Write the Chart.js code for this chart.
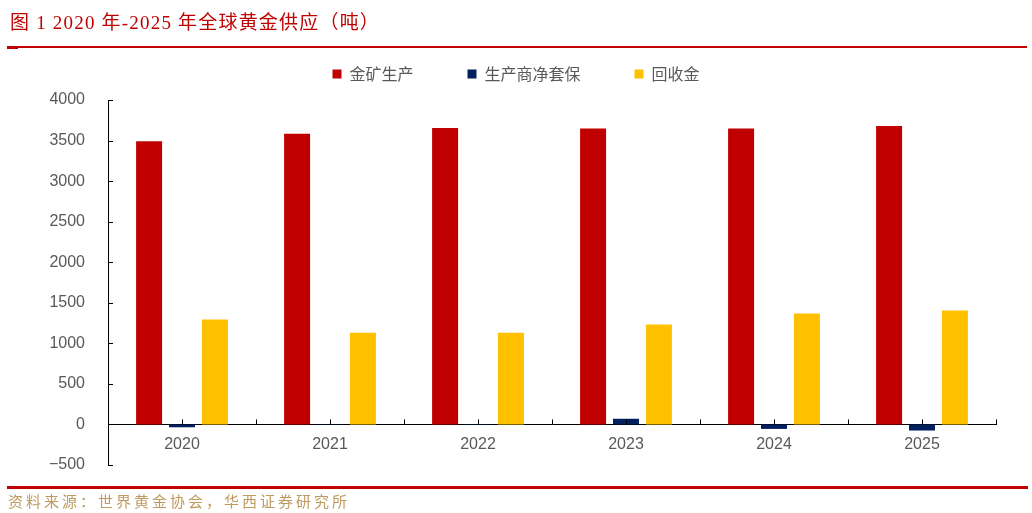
<!DOCTYPE html>
<html>
<head>
<meta charset="utf-8">
<script src="https://cdn.jsdelivr.net/npm/chart.js@4.4.1/dist/chart.umd.min.js"></script>
<style>
    body { margin: 0; background: #fff; }
    #page { position: relative; width: 1032px; height: 513px; overflow: hidden; background: #fff; }
    #chart { position: absolute; left: 0; top: 0; }
    #title {
        position: absolute; left: 10px; top: 7px;
        font-family: "Liberation Serif", "Noto Sans CJK SC", serif;
        font-size: 19px; color: #c00000; white-space: nowrap; letter-spacing: 1.2px;
    }
    #topLine { position: absolute; left: 7px; top: 46px; width: 1020px; height: 2px; background: #c00000; }
    #topMark { position: absolute; left: 7px; top: 46px; width: 11px; height: 3px; background: #c00000; }
    #bottomLine { position: absolute; left: 7px; top: 486px; width: 1021px; height: 3px; background: #c00000; }
    #source {
        position: absolute; left: 8px; top: 490px;
        font-family: "Noto Sans CJK SC", sans-serif;
        font-size: 15px; color: #bf9a5e; white-space: nowrap; letter-spacing: 3px;
    }
</style>
</head>
<body>
<div id="page">
    <canvas id="chart" width="1032" height="513"></canvas>
    <div id="title">图 1 2020 年-2025 年全球黄金供应（吨）</div>
    <div id="topLine"></div>
    <div id="topMark"></div>
    <div id="bottomLine"></div>
    <div id="source">资料来源：世界黄金协会，华西证券研究所</div>
</div>
<script>
var years = ["2020", "2021", "2022", "2023", "2024", "2025"];
var seriesNames = ["金矿生产", "生产商净套保", "回收金"];
var mineProduction = [3490, 3585, 3655, 3650, 3650, 3680];
var producerHedging = [-35, -4, -5, 70, -55, -75];
var recycledGold = [1293, 1132, 1132, 1231, 1367, 1404];
var yMin = -500, yMax = 4000, yStep = 500;

var colors = ["#c00000", "#002060", "#ffc000"];

Chart.defaults.font.family = "'Liberation Sans', Arial, sans-serif";
Chart.defaults.color = "#595959";

// little inward tick marks like the excel original
var axisTicks = {
    id: "axisTicks",
    beforeLayout: function (chart) {
        // a bit more room under the legend
        var lg = chart.legend;
        if (lg && !lg._extraGap) {
            var fit = lg.fit;
            lg.fit = function () {
                fit.call(this);
                this.height += 8;
            };
            lg._extraGap = true;
        }
    },
    afterDraw: function (chart) {
        var ctx = chart.ctx;
        var x = chart.scales.x;
        var y = chart.scales.y;
        var y0 = y.getPixelForValue(0);
        var step = x.getPixelForValue(1) - x.getPixelForValue(0);
        ctx.save();
        ctx.strokeStyle = "#000";
        ctx.lineWidth = 1;
        ctx.beginPath();
        for (var i = 0; i < years.length; i++) {
            var c = Math.round(x.getPixelForValue(i)) + 0.5;
            ctx.moveTo(c, y0);
            ctx.lineTo(c, y0 - 5);
        }
        for (var j = 0; j <= years.length; j++) {
            var b = Math.round(x.getPixelForValue(0) - step / 2 + j * step) + 0.5;
            ctx.moveTo(b, y0);
            ctx.lineTo(b, y0 - 5);
        }
        y.ticks.forEach(function (t) {
            var py = Math.round(y.getPixelForValue(t.value)) + 0.5;
            ctx.moveTo(y.right, py);
            ctx.lineTo(y.right + 5, py);
        });
        ctx.stroke();
        ctx.restore();
    },
};

var ctx = document.getElementById("chart").getContext("2d");
new Chart(ctx, {
    type: "bar",
    data: {
        labels: years,
        datasets: [
            { label: seriesNames[0], data: mineProduction, backgroundColor: colors[0] },
            { label: seriesNames[1], data: producerHedging, backgroundColor: colors[1] },
            { label: seriesNames[2], data: recycledGold, backgroundColor: colors[2] },
        ],
    },
    options: {
        responsive: false,
        animation: false,
        layout: { padding: { top: 12, left: 0, right: 0, bottom: 48 } },
        datasets: {
            bar: { categoryPercentage: 0.667, barPercentage: 0.79, borderWidth: 0 },
        },
        scales: {
            x: {
                position: { y: 0 },
                grid: { display: false },
                border: { display: true, color: "#000", width: 1 },
                ticks: { font: { size: 16 }, color: "#595959", padding: 3 },
            },
            y: {
                min: yMin,
                max: yMax,
                grid: { display: false },
                border: { display: true, color: "#000", width: 1 },
                ticks: {
                    stepSize: yStep,
                    font: { size: 16 },
                    color: "#595959",
                    padding: 15,
                    callback: function (v) {
                        return v < 0 ? "\u2212" + Math.abs(v) : String(v);
                    },
                },
                afterFit: function (s) {
                    s.width = 108;
                    s.paddingRight = 36;
                },
            },
        },
        plugins: {
            tooltip: { enabled: false },
            legend: {
                position: "top",
                labels: {
                    boxWidth: 9,
                    boxHeight: 9,
                    padding: 54,
                    color: "#595959",
                    font: { size: 16, family: "'Noto Sans CJK SC', sans-serif" },
                },
            },
        },
    },
    plugins: [axisTicks],
});
</script>
</body>
</html>
